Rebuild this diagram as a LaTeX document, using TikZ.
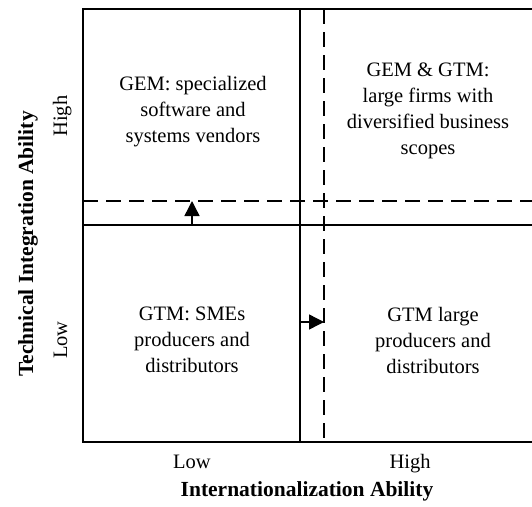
\documentclass[tikz,border=0pt]{standalone}
\usepackage{fontspec}
\setmainfont{Liberation Serif}
\usetikzlibrary{arrows.meta}
\begin{document}
\begin{tikzpicture}[x=1pt,y=-1pt,
  frame/.style={line width=1.9pt},
  dashline/.style={line width=1.4pt, dash pattern=on 15pt off 8pt},
  mover/.style={line width=1.4pt, -{Triangle[length=15pt,width=15pt]}},
  celltext/.style={align=center, font=\fontsize{20.5}{26}\selectfont, inner sep=0pt},
  ticklabel/.style={font=\fontsize{20.5}{24}\selectfont, inner sep=0pt, anchor=base},
  axislabel/.style={font=\fontsize{21.5}{26}\selectfont\bfseries, inner sep=0pt, anchor=base}]
\useasboundingbox (0,0) rectangle (532,506);
% frame corners
\coordinate (tl) at (83,9);
\coordinate (tr) at (533,9);
\coordinate (bl) at (83,442);
\coordinate (br) at (533,442);
\coordinate (vt) at (300,9);
\coordinate (vb) at (300,442);
\coordinate (hl) at (83,225);
\coordinate (hr) at (533,225);
\coordinate (dvt) at (324,9);
\coordinate (dvb) at (324,442);
\coordinate (dhl) at (83,201);
\coordinate (dhr) at (533,201);
% frame
\draw[frame] (tr) -- (tl) -- (bl) -- (br);
\draw[frame] (vt) -- (vb);
\draw[frame] (hl) -- (hr);
% shifted boundaries
\draw[dashline] (dvt) -- (dvb);
\draw[dashline] (dhl) -- (dhr);
% arrows
\coordinate (ua0) at (192,225);
\coordinate (ua1) at (192,201);
\coordinate (ra0) at (300,322);
\coordinate (ra1) at (324,322);
\draw[mover] (ua0) -- (ua1);
\draw[mover] (ra0) -- (ra1);
% cells
\node[celltext] (c1) at (193,112) {GEM: specialized\\software and\\systems vendors};
\node[celltext] (c2) at (428,111) {GEM \& GTM:\\large firms with\\diversified business\\scopes};
\node[celltext] (c3) at (192,340) {GTM: SMEs\\producers and\\distributors};
\node[celltext] (c4) at (433,340) {GTM large\\producers and\\distributors};
% axis labels
\node[ticklabel, rotate=90] (yhigh) at (67,116) {High};
\node[ticklabel, rotate=90] (ylow) at (67,340) {Low};
\node[axislabel, rotate=90] (ylab) at (33,244) {Technical Integration Ability};
\node[ticklabel] (xlow) at (192,468) {Low};
\node[ticklabel] (xhigh) at (410,468) {High};
\node[axislabel] (xlab) at (307,496) {Internationalization Ability};
\end{tikzpicture}
\end{document}
